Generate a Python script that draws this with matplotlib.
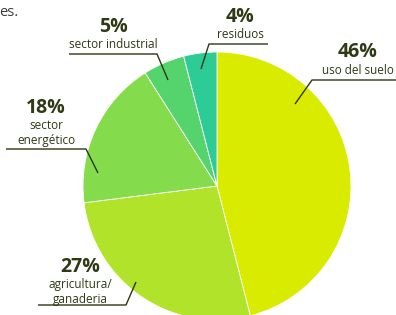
import matplotlib
matplotlib.use("Agg")
import matplotlib.pyplot as plt

categories = ["uso del suelo", "agricultura/\nganaderia", "sector\nenergético", "sector industrial", "residuos"]
values = [46, 27, 18, 5, 4]
pct_labels = ["46%", "27%", "18%", "5%", "4%"]
colors = ["#d9ec00", "#b0e32a", "#84dc4c", "#55d46e", "#2dcb95"]

W, H = 396, 315
CX, CY, R = 217, 186, 134
fig = plt.figure(figsize=(W / 100, H / 100), dpi=100)
ax = fig.add_axes([0, 0, 1, 1])

ax.pie(values, colors=colors, startangle=90, counterclock=False, radius=1,
       wedgeprops=dict(edgecolor="white", linewidth=0.6))
ax.set_aspect("equal")
ax.set_xlim((0 - CX) / R, (W - CX) / R)
ax.set_ylim((CY - H) / R, CY / R)
ax.axis("off")

def P(x, y):
    return ((x - CX) / R, (CY - y) / R)

txt = "#2e3a14"
lin = "#2e3514"
fam = ["Open Sans", "DejaVu Sans"]

# label layout (pixel positions): pct center, label center, leader line points
layout = [
    dict(pct=(358, 52), lab=(358, 71), line=[(396, 80), (312, 80), (295, 104)]),
    dict(pct=(80, 267), lab=(80, 292), line=[(38, 305), (126, 305), (136, 282)]),
    dict(pct=(46, 108), lab=(46, 133), line=[(6, 149), (86, 149), (98, 173)]),
    dict(pct=(113, 27), lab=(113, 45), line=[(69, 54), (157, 54), (168, 80)]),
    dict(pct=(240, 17), lab=(240, 34), line=[(268, 44), (209, 44), (201, 69)]),
]

for cat, pl, lay in zip(categories, pct_labels, layout):
    ax.text(*P(*lay["pct"]), pl, ha="center", va="center", fontsize=14,
            fontweight="bold", color=txt, family=fam)
    ax.text(*P(*lay["lab"]), cat, ha="center", va="center", fontsize=8.5,
            color=txt, family=fam, linespacing=1.15)
    pts = [P(*p) for p in lay["line"]]
    ax.plot([p[0] for p in pts], [p[1] for p in pts], color=lin, lw=1.0,
            solid_capstyle="butt")

ax.text(*P(-1, 12), "es.", ha="left", va="center", fontsize=10.5, color="#3a3a3a", family=fam)

fig.savefig("out.png", dpi=100)
